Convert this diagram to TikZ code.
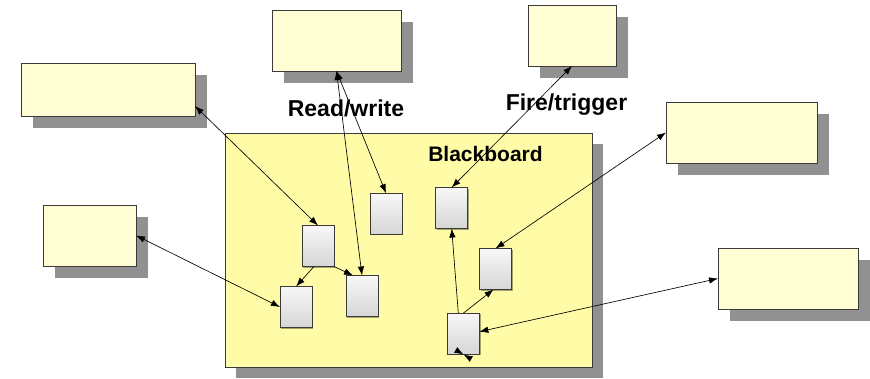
\documentclass[tikz,border=0pt]{standalone}
\usepackage{fontspec}
\setmainfont{Liberation Sans}
\usetikzlibrary{arrows.meta,shadows}
\definecolor{boxfill}{HTML}{FFFDD3}
\definecolor{boardfill}{HTML}{FFFBA6}
\definecolor{shadowgray}{HTML}{919191}
\definecolor{edgegray}{HTML}{3A3A3A}
\tikzset{
  obox/.style={draw=edgegray, line width=0.8pt, fill=boxfill, inner sep=0pt, outer sep=0pt,
    drop shadow={shadow xshift=12pt, shadow yshift=-12pt, fill=shadowgray, opacity=1}},
  board/.style={draw=edgegray, line width=0.8pt, fill=boardfill, inner sep=0pt, outer sep=0pt,
    drop shadow={shadow xshift=11pt, shadow yshift=-11pt, fill=shadowgray, opacity=1}},
  card/.style={draw=edgegray, line width=0.8pt, top color=gray!6, bottom color=gray!32,
    minimum width=32pt, minimum height=41pt, inner sep=0pt, outer sep=0pt,
    drop shadow={shadow xshift=1.2pt, shadow yshift=-1.2pt, fill=black, opacity=0.35}},
  link/.style={line width=0.65pt, {Latex[length=9pt,width=6.5pt]}-{Latex[length=9pt,width=6.5pt]}},
  onearrow/.style={line width=0.65pt, -{Latex[length=9pt,width=6.5pt]}},
  lbl/.style={font=\bfseries\fontsize{21}{25}\selectfont, inner sep=0pt, anchor=base},
  biglbl/.style={lbl, font=\bfseries\fontsize{23}{27}\selectfont}
}
\begin{document}
\begin{tikzpicture}[x=1pt,y=-1pt]
\useasboundingbox (0,0) rectangle (870,379);
% blackboard
\node[board, minimum width=367pt, minimum height=234pt] (BB) at (408.5,250) {};
\node[lbl] (bbl) at (485.5,161.7) {Blackboard};
% outer boxes
\node[obox, minimum width=174pt, minimum height=53pt] (TL) at (108,89.5) {};
\node[obox, minimum width=129pt, minimum height=61pt] (TM) at (336.5,40.5) {};
\node[obox, minimum width=88pt, minimum height=61pt] (TR) at (572,35.5) {};
\node[obox, minimum width=151pt, minimum height=61pt] (R) at (741.5,132.5) {};
\node[obox, minimum width=93pt, minimum height=61pt] (LM) at (89.5,235.5) {};
\node[obox, minimum width=140pt, minimum height=61pt] (BR) at (788,278.5) {};
% labels
\node[biglbl] (rw) at (346,116.7) {Read/write};
\node[biglbl] (ft) at (566.5,111) {Fire/trigger};
% cards
\node[card] (A) at (318,246) {};
\node[card] (B) at (296,307) {};
\node[card] (C) at (362,296) {};
\node[card] (D) at (386,213.7) {};
\node[card] (E) at (451.7,208) {};
\node[card] (F) at (495.5,269) {};
\node[card] (G) at (463.3,333.7) {};
% connectors
\draw[link] ([yshift=10pt]TL.south east) -- (A.north);
\draw[link] (LM.east) -- (B.west);
\draw[onearrow] ([xshift=-4pt]A.south) -- (B.north);
\draw[onearrow] (A.south east) -- ([xshift=-9pt]C.north);
\draw[link] (TM.south) -- (C.north);
\draw[link] (TM.south) -- (D.north);
\draw[link] (TR.south) -- (E.north);
\draw[link] (R.west) -- (F.north);
\draw[onearrow] ([xshift=-5pt]G.north) -- (E.south);
\draw[onearrow] (G.north) -- ([xshift=-2pt]F.south);
\draw[link] (BR.west) -- ([yshift=2pt]G.east);
% small bow-tie mark at the bottom of G
\coordinate (mc) at (463.5,354.5);
\coordinate (m1) at (455.8,350);
\coordinate (m2) at (471.2,359);
\draw[onearrow] (m1) -- (mc);
\draw[onearrow] (m2) -- (mc);
\end{tikzpicture}
\end{document}
